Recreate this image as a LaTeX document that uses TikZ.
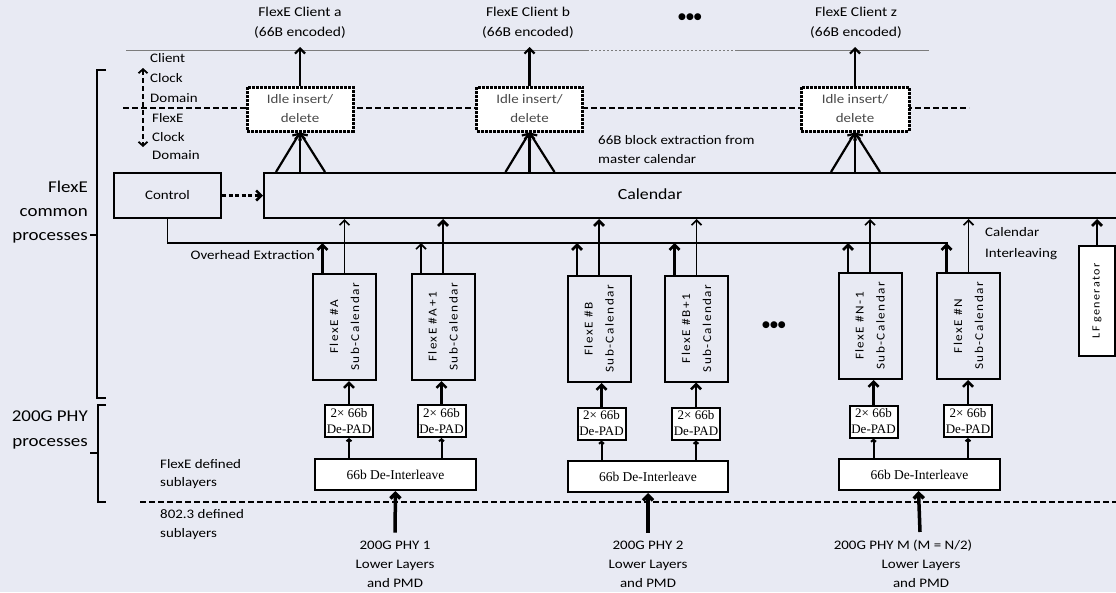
\documentclass[tikz,border=0pt]{standalone}
\usepackage{fontspec}
\usepackage{graphicx}
\setmainfont{Carlito}[FakeStretch=1.15]
\newfontfamily\rotfont{Carlito}[FakeStretch=1.1,LetterSpace=12]
\newfontfamily\tmsfont{Liberation Serif}
\newfontfamily\symfont{DejaVu Sans}
\usetikzlibrary{arrows.meta,calc}
\definecolor{bgc}{HTML}{E8EAF3}
\definecolor{rulegray}{HTML}{7C7C7C}
\definecolor{idlegray}{HTML}{4A4A4A}
\newcommand\vlabel[1]{\rotatebox{90}{\begin{tabular}{@{}c@{}}#1\end{tabular}}}
\begin{document}
\begin{tikzpicture}[x=1pt,y=-1pt,
  every node/.style={inner sep=0pt},
  lbl/.style={font=\fontsize{13}{19}\selectfont},
  biglbl/.style={font=\fontsize{16.5}{24}\selectfont, align=right, anchor=east},
  box/.style={draw, line width=2pt},
  idle/.style={draw, line width=3pt, dash pattern=on 3pt off 1pt, fill=white,
    minimum width=106pt, minimum height=44pt, align=center, text=idlegray,
    font=\fontsize{13}{19}\selectfont},
  subcal/.style={box, minimum width=63pt, minimum height=106pt,
    font=\rotfont\fontsize{12}{21}\selectfont},
  depad/.style={box, fill=white, minimum width=48pt, minimum height=32pt,
    align=center, font=\tmsfont\fontsize{13}{16}\selectfont},
  deint/.style={box, fill=white, minimum width=161pt, minimum height=31pt,
    font=\tmsfont\fontsize{13.5}{16}\selectfont},
  tip/.style={-{Straight Barb[length=5pt,width=10pt]}},
  heavy/.style={tip, line width=2.8pt},
  light/.style={tip, line width=1.6pt},
  mid/.style={tip, line width=2.2pt},
  small/.style={-{Straight Barb[length=2pt,width=5pt]}, line width=2pt},
  thinline/.style={line width=1.3pt},
  dashline/.style={line width=1.5pt, dash pattern=on 6pt off 3pt},
  bracket/.style={line width=1.5pt},
]
\path[use as bounding box] (0,0) rectangle (1116,592);
\clip (0,0) rectangle (1116,592);
\fill[bgc] (0,0) rectangle (1116,592);

% clock domain boundary and client-side rule
\draw[rulegray, line width=1pt] (126,50) -- (587,50);
\draw[rulegray, line width=1pt, dash pattern=on 2pt off 2pt] (587,50) -- (737,50);
\draw[rulegray, line width=1pt] (737,50) -- (929,50);
\draw[dashline] (123,108) -- (969,108);
\draw[dashline] (140,502) -- (1116,502);

% client outputs
\node[font=\fontsize{13.5}{20}\selectfont, align=center] (clientA) at (300,23) {FlexE Client a\\(66B encoded)};
\node[font=\fontsize{13.5}{20}\selectfont, align=center] (clientB) at (528,23) {FlexE Client b\\(66B encoded)};
\node[font=\fontsize{13.5}{20}\selectfont, align=center] (clientZ) at (856,23) {FlexE Client z\\(66B encoded)};
\node[font=\symfont\fontsize{9}{9}\selectfont] (dotsTop) at (690,17) {●●●};

% idle insert/delete blocks
\node[idle] (idleA) at (300,109) {Idle insert/\\delete};
\node[idle] (idleB) at (529.5,109) {Idle insert/\\delete};
\node[idle, minimum width=108pt] (idleZ) at (855,109) {Idle insert/\\delete};

% clock domain labels
\node[lbl, align=left, anchor=west, font=\fontsize{13}{20}\selectfont] (cdClient) at (150,78) {Client\\Clock\\Domain};
\node[lbl, align=left, anchor=west, font=\fontsize{13}{18.5}\selectfont] (cdFlex) at (152,137) {FlexE\\Clock\\Domain};
\coordinate (cdTop) at (143,68);
\coordinate (cdBot) at (143,147);
\draw[line width=1.8pt, dash pattern=on 5pt off 3pt,
  {Straight Barb[length=4pt,width=9pt]}-{Straight Barb[length=4pt,width=9pt]}] (cdTop) -- (cdBot);

% calendar and control
\node[box, minimum width=866pt, minimum height=45pt] (cal) at (697,195.5) {};
\node[font=\fontsize{15.5}{18}\selectfont] (calName) at (650,194) {Calendar};
\node[box, minimum width=107pt, minimum height=45pt, lbl] (ctrl) at (167.5,195.5) {Control};
\draw[line width=2.5pt, dash pattern=on 4pt off 2.5pt, tip] (ctrl.east) -- (cal.west);

\node[lbl, align=left, anchor=west] (extr) at (598,149.5) {66B block extraction from\\master calendar};

% extraction from master calendar into each client
\coordinate (outY) at (0,47);
\foreach \n in {idleA,idleB,idleZ}{
  \draw[mid] (\n.north) -- (\n.north |- outY);
  \coordinate (f\n) at (\n.south |- cal.north);
  \draw[mid] (f\n) -- (\n.south);
  \draw[mid] ($(f\n)+(-24,0)$) -- (\n.south);
  \draw[mid] ($(f\n)+(25,0)$) -- (\n.south);
}

% left-hand process brackets
\node[biglbl] (common) at (88,212) {FlexE\\common\\processes};
\node[biglbl, font=\fontsize{16.5}{25}\selectfont] (phyproc) at (88,429.5) {200G PHY\\processes};
\draw[bracket] (106,70) -- (97,70) -- (97,398) -- (106,398);
\draw[bracket] (90,235) -- (97,235);
\draw[bracket] (106,405) -- (98,405) -- (98,502) -- (106,502);
\draw[bracket] (90,453) -- (98,453);

% sub-calendars
\node[subcal] (sA)  at (344.5,327) {\vlabel{FlexE \#A\\Sub-Calendar}};
\node[subcal] (sA1) at (443,327)   {\vlabel{FlexE \#A+1\\Sub-Calendar}};
\node[subcal] (sB)  at (599,329)   {\vlabel{FlexE \#B\\Sub-Calendar}};
\node[subcal] (sB1) at (696.5,328.5) {\vlabel{FlexE \#B+1\\Sub-Calendar}};
\node[subcal] (sN1) at (870,326)   {\vlabel{FlexE \#N-1\\Sub-Calendar}};
\node[subcal] (sN)  at (968.5,326) {\vlabel{FlexE \#N\\Sub-Calendar}};
\node[font=\symfont\fontsize{9}{9}\selectfont] (dotsMid) at (774,325) {●●●};

\node[box, fill=white, minimum width=36pt, minimum height=110pt,
  font=\rotfont\fontsize{11}{13}\selectfont] (lf) at (1097,301) {\rotatebox{90}{LF generator}};
\draw[heavy] (lf.north) -- (lf.north |- cal.south);

% overhead extraction bus
\coordinate (ovhR) at (947.5,243);
\draw[thinline] (ctrl.south) |- (ovhR);
\node[lbl, anchor=east] (ovhText) at (315,255) {Overhead Extraction};
\node[lbl, align=left, anchor=west, font=\fontsize{13}{21}\selectfont] (interl) at (985,243.5) {Calendar\\Interleaving};

\foreach \s/\wl/\wr in {sA/heavy/light, sA1/light/heavy, sB/heavy/heavy,
                        sB1/heavy/light, sN1/heavy/light, sN/heavy/light}{
  \coordinate (x\s) at ($(\s.north west)+(10.5,0)$);
  \draw[\wl] (x\s) -- (x\s |- ovhR);
  \draw[\wr] (\s.north) -- (\s.north |- cal.south);
}

% de-pad blocks
\node[depad] (dA)  at (349,421)     {2× 66b\\De-PAD};
\node[depad] (dA1) at (441.5,421)   {2× 66b\\De-PAD};
\node[depad] (dB)  at (601.5,423.5) {2× 66b\\De-PAD};
\node[depad] (dB1) at (696,423.5)   {2× 66b\\De-PAD};
\node[depad] (dN1) at (873.5,421.5) {2× 66b\\De-PAD};
\node[depad] (dN)  at (968,421)     {2× 66b\\De-PAD};
\foreach \d/\s in {dA/sA, dA1/sA1, dB/sB, dB1/sB1, dN1/sN1, dN/sN}{
  \draw[heavy, line width=2.5pt] (\d.north) -- (\d.north |- \s.south);
}

% de-interleave blocks
\node[deint] (di1) at (395.5,474.5) {66b De-Interleave};
\node[deint, minimum width=160pt] (di2) at (648,476.5) {66b De-Interleave};
\node[deint] (di3) at (919.5,474.5) {66b De-Interleave};
\foreach \d/\i in {dA/di1, dA1/di1, dB/di2, dB1/di2, dN1/di3, dN/di3}{
  \draw[small] (\d.south |- \i.north) -- (\d.south);
}

% sublayer labels
\node[lbl, align=left, anchor=west, font=\fontsize{13}{18}\selectfont] (flexSub) at (160,474) {FlexE defined\\sublayers};
\node[lbl, align=left, anchor=west] (ieeeSub) at (160,524.5) {802.3 defined\\sublayers};

% PHY inputs
\node[lbl, align=center] (phy1) at (395,564) {200G PHY 1\\Lower Layers\\and PMD};
\node[lbl, align=center] (phy2) at (648,564) {200G PHY 2\\Lower Layers\\and PMD};
\node[lbl, align=center] (phyM) at (921,564) {\hspace*{-36pt}200G PHY M (M = N/2)\\Lower Layers\\and PMD};
\draw[tip, line width=3.5pt] ([yshift=8pt]phy1.north) -- (di1.south);
\draw[tip, line width=3.5pt] ([yshift=8pt]phy2.north) -- (di2.south);
\draw[tip, line width=3.5pt] ([xshift=-1pt,yshift=8pt]phyM.north) -- ([xshift=-1pt]di3.south);
\end{tikzpicture}
\end{document}
